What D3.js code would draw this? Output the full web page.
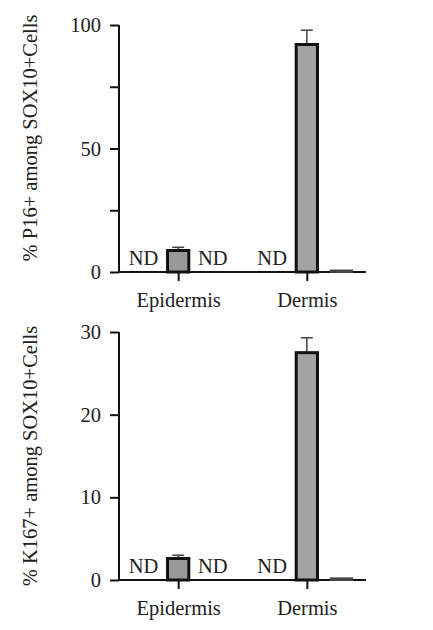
<!DOCTYPE html>
<html>
<head>
<meta charset="utf-8">
<script src="https://cdn.jsdelivr.net/npm/d3@7"></script>
<style>
  body { margin: 0; background: #fff; }
</style>
</head>
<body>
<div class="chart"></div>
<script>
const width = 433
const height = 630
const font = "'Liberation Serif', 'Times New Roman', serif"

// data (null = ND)
const groups = ["Epidermis", "Dermis"]
const conditions = ["A", "B", "C"]

const p16Mean = [[null, 8.7, null], [null, 92.1, 0.6]]
const p16Err = [[0, 1.3, 0], [0, 5.8, 0]]
const p16Ticks = [0, 25, 50, 75, 100]
const p16Labels = [0, 50, 100]

const ki67Mean = [[null, 2.6, null], [null, 27.5, 0.2]]
const ki67Err = [[0, 0.4, 0], [0, 1.8, 0]]
const ki67Ticks = [0, 10, 20, 30]
const ki67Labels = [0, 10, 20, 30]

const panels = [
    {title: "% P16+ among SOX10+Cells", mean: p16Mean, err: p16Err, max: 100,
     ticks: p16Ticks, labels: p16Labels, top: 25, bottom: 272, titleY: 138},
    {title: "% K167+ among SOX10+Cells", mean: ki67Mean, err: ki67Err, max: 30,
     ticks: ki67Ticks, labels: ki67Labels, top: 332, bottom: 580, titleY: 456}
]

const left = 119
const right = 366

const svg = d3.select(".chart")
    .append("svg")
    .attr("width", width)
    .attr("height", height)
    .attr("font-family", font)

const xGroup = d3.scalePoint()
    .domain(groups)
    .range([left, right])
    .padding(0.46)

const xCond = d3.scaleBand()
    .domain(conditions)
    .range([-52, 52])
    .paddingInner(0.3)
    .paddingOuter(0.15)

const styleText = sel => sel
    .attr("font-family", font)
    .style("font-family", font)
    .style("font-size", "20.5px")
    .attr("fill", "#222")

panels.forEach(p => {
    const yScale = d3.scaleLinear()
        .domain([0, p.max])
        .range([p.bottom, p.top])

    const g = svg.append("g")

    // y axis
    const yAxis = g.append("g")
        .attr("transform", `translate(${left}, 0)`)
        .call(d3.axisLeft(yScale)
            .tickValues(p.ticks)
            .tickSize(9)
            .tickPadding(9)
            .tickFormat(d => p.labels.includes(d) ? d : ""))
    yAxis.attr("font-family", font)
    yAxis.select("path.domain").attr("d", `M0,${p.top}V${p.bottom}`)
    yAxis.selectAll("path, line").attr("stroke", "#111").attr("stroke-width", 2)
    yAxis.selectAll("text").call(styleText)

    // x axis
    const xAxis = g.append("g")
        .attr("transform", `translate(0, ${p.bottom})`)
        .call(d3.axisBottom(xGroup).tickSize(9).tickPadding(11))
    xAxis.attr("font-family", font)
    xAxis.select("path.domain").attr("d", `M${left},0H${right}`)
    xAxis.selectAll("path, line").attr("stroke", "#111").attr("stroke-width", 2)
    xAxis.selectAll("text").call(styleText)

    const bars = []
    groups.forEach((grp, gi) => {
        conditions.forEach((c, ci) => {
            bars.push({grp, c, v: p.mean[gi][ci], e: p.err[gi][ci]})
        })
    })
    const bx = d => xGroup(d.grp) + xCond(d.c)
    const cx = d => bx(d) + xCond.bandwidth() / 2

    const present = bars.filter(d => d.v !== null)

    // error bars (upper only)
    g.selectAll("line.err")
        .data(present.filter(d => d.e > 0))
        .enter().append("line")
            .attr("x1", cx)
            .attr("x2", cx)
            .attr("y1", d => yScale(d.v))
            .attr("y2", d => yScale(d.v + d.e))
            .attr("stroke", "#444")
            .attr("stroke-width", 1.5)
    g.selectAll("line.cap")
        .data(present.filter(d => d.e > 0))
        .enter().append("line")
            .attr("x1", d => cx(d) - 6)
            .attr("x2", d => cx(d) + 6)
            .attr("y1", d => yScale(d.v + d.e))
            .attr("y2", d => yScale(d.v + d.e))
            .attr("stroke", "#444")
            .attr("stroke-width", 1.5)

    g.selectAll("rect.bar")
        .data(present)
        .enter().append("rect")
            .attr("x", d => bx(d) + 1.5)
            .attr("y", d => yScale(d.v))
            .attr("width", xCond.bandwidth() - 3)
            .attr("height", d => yScale(0) - yScale(d.v))
            .attr("fill", d => d.grp === "Epidermis" ? "#999" : "#a3a3a3")
            .attr("stroke", d => d.v < 1 ? "#444" : "#111")
            .attr("stroke-width", d => d.v < 1 ? 2 : 3)

    // ND labels
    g.selectAll("text.nd")
        .data(bars.filter(d => d.v === null))
        .enter().append("text")
            .attr("x", cx)
            .attr("y", p.bottom - 7)
            .attr("text-anchor", "middle")
            .call(styleText)
            .text("ND")

    // y title
    g.append("text")
        .attr("transform", `translate(37, ${p.titleY}) rotate(-90)`)
        .attr("text-anchor", "middle")
        .call(styleText)
        .text(p.title)
})
</script>
</body>
</html>
